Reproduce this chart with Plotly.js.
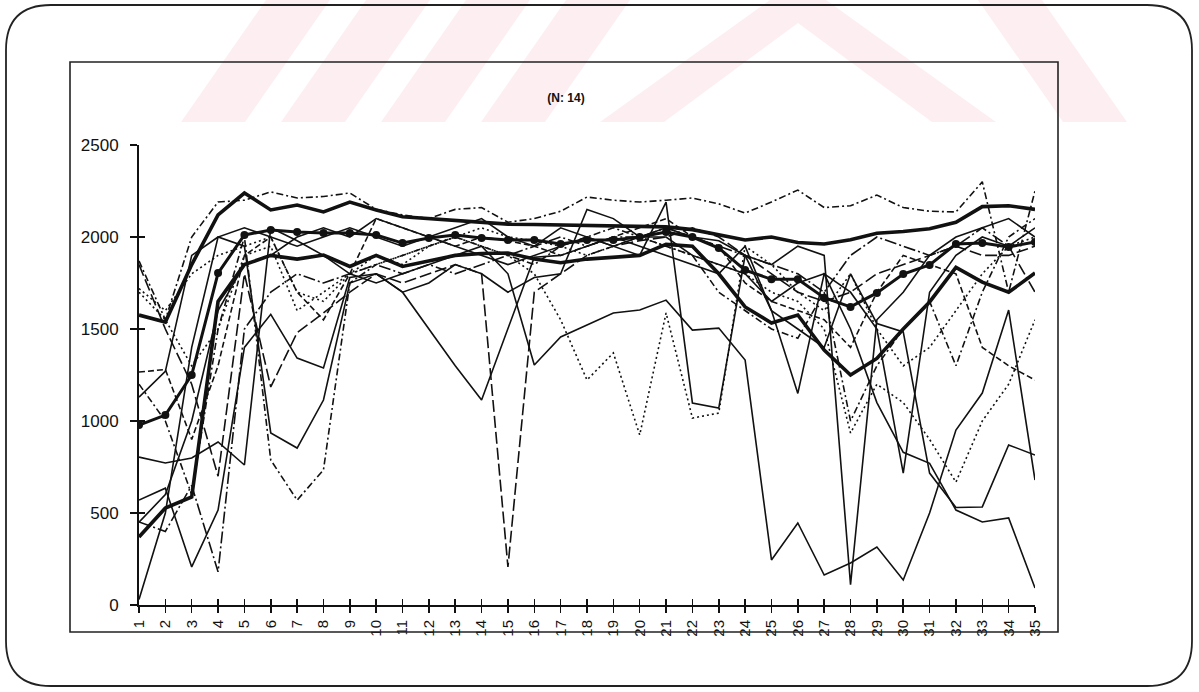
<!DOCTYPE html>
<html><head><meta charset="utf-8">
<script src="https://cdn.plot.ly/plotly-3.0.1.min.js"></script>
<style>html,body{margin:0;padding:0;background:#fff;}#chart{width:1199px;height:692px;}</style>
</head><body><div id="chart"></div>
<script>
// ---- data ----
const days = [1,2,3,4,5,6,7,8,9,10,11,12,13,14,15,16,17,18,19,20,21,22,23,24,25,26,27,28,29,30,31,32,33,34,35];
const dayLabels = ['1','2','3','4','5','6','7','8','9','10','11','12','13','14','15','16','17','18','19','20','21','22','23','24','25','26','27','28','29','30','31','32','33','34','35'];
const yTicks = [0,500,1000,1500,2000,2500];
const yTickLabels = ['0','500','1000','1500','2000','2500'];
const titleText = '(N: 14)';

const meanSeries = [978,1032,1250,1804,2011,2038,2027,2022,2022,2011,1967,1995,2011,1995,1984,1984,1962,1984,1984,2000,2027,2000,1940,1820,1770,1770,1670,1620,1696,1799,1848,1962,1967,1946,1973];
const thickTop = [1576,1538,1850,2120,2239,2147,2174,2136,2190,2147,2110,2100,2090,2080,2070,2068,2065,2060,2058,2055,2055,2040,2010,1984,2000,1970,1962,1985,2020,2030,2045,2080,2165,2170,2150];
const thickLow = [370,527,587,1650,1850,1900,1880,1902,1840,1900,1840,1870,1900,1910,1913,1880,1860,1880,1890,1900,1960,1950,1800,1620,1533,1576,1386,1250,1340,1500,1647,1835,1755,1700,1804];
const s01 = [804,772,799,886,761,2050,1980,1900,1800,1750,1800,1850,1900,1950,1800,1304,1457,1520,1587,1603,1657,1494,1505,1331,245,446,163,228,315,136,500,951,1152,1603,679];
const s02 = [570,635,207,516,1400,1580,1342,1288,1780,1800,1700,1750,1850,1800,1700,1780,1800,2150,2100,2000,2000,1900,1850,1800,1650,1750,1800,1500,1100,830,770,516,451,473,92];
const s03 = [1130,1270,1900,2000,1950,935,853,1114,1750,1800,1700,1500,1300,1114,1500,1890,1900,1950,2000,1950,1900,1850,1800,1950,1600,1150,1800,1700,1500,717,1700,1900,2000,1950,2050];
const s04 = [1200,1000,600,1500,2000,788,570,734,1750,1850,1900,1950,2000,1950,1900,1850,1950,2000,2050,2000,1950,1900,1700,1600,1500,1450,1700,1000,1300,1500,1650,1300,1700,2000,2100];
const s05 = [1850,1500,1200,700,1800,1185,1480,1587,1700,1800,1750,1800,1850,1800,207,1700,1800,1900,1950,1980,2000,2050,2000,1900,1800,1700,1650,1700,1800,1850,1900,1950,1900,1900,1950];
const s06 = [1700,1550,1300,1500,1900,1950,1600,1700,1800,1900,1850,1950,2000,1950,1900,1800,1550,1223,1370,924,1587,1016,1043,1950,1850,1700,1600,1800,1500,1300,1400,1600,1800,1950,2000];
const s07 = [1870,1550,2000,2190,2200,2245,2212,2220,2239,2150,2120,2100,2150,2160,2080,2100,2140,2217,2200,2190,2200,2212,2180,2130,2190,2255,2160,2170,2228,2160,2140,2136,2300,1700,2250];
const s08 = [450,600,1000,1600,1850,1900,2000,2050,2000,2100,2050,2000,2050,2100,2000,1950,2050,2000,1950,1900,2190,1098,1070,1900,1850,1950,1900,110,1550,1700,1900,2000,2050,2100,2000];
const s09 = [30,500,1400,2000,2050,2000,1950,2000,2050,2000,1950,2000,1950,1900,1850,1900,1950,2000,1950,2000,2050,2000,1980,1900,1600,1500,1400,1800,1530,1484,717,530,533,870,815];
const s10 = [1266,1280,900,1300,1900,2000,1700,1550,1800,2100,2050,2000,1950,2000,1980,1950,1900,1950,2000,2050,2100,2000,1950,1750,1650,1600,1550,1400,1700,1900,1850,1800,1400,1300,1223];
const s11 = [1720,1600,1800,1900,1950,2000,1700,1650,1800,1850,1900,1950,2000,2050,2000,1980,1950,1900,1950,2000,1950,1900,1850,1800,1700,1650,1500,935,1200,1100,900,668,1000,1200,1550];
const s12 = [451,400,650,180,1500,1700,1800,1750,1800,1850,1800,1850,1800,1850,1900,1950,2000,1950,2000,2000,2050,2000,1950,1900,1850,1800,1700,1900,2000,1950,1900,1950,2050,1950,1700];

// ---- styles ----
const DASH = '6px,3px', DOT = '2px,3px', DASHDOT = '7px,3px,2px,3px', LONGDASH = '12px,4px', LONGDASHDOT = '12px,3px,2px,3px';
const thin = [
  [s01,'solid'],[s02,'solid'],[s03,'solid'],[s04,DASHDOT],[s05,LONGDASH],[s06,DOT],
  [s07,DASHDOT],[s08,'solid'],[s09,'solid'],[s10,DASH],[s11,DOT],[s12,LONGDASHDOT]
];
const INK = '#111';
const traces = [];
thin.forEach(([ys,d],i)=>traces.push({x:days,y:ys,type:'scatter',mode:'lines',name:'S'+(i+1),
  line:{color:INK,width:1.6,dash:d},hoverinfo:'skip',showlegend:false}));
traces.push({x:days,y:thickTop,type:'scatter',mode:'lines',line:{color:INK,width:3.6},hoverinfo:'skip',showlegend:false});
traces.push({x:days,y:thickLow,type:'scatter',mode:'lines',line:{color:INK,width:3.6},hoverinfo:'skip',showlegend:false});
traces.push({x:days,y:meanSeries,type:'scatter',mode:'lines+markers',line:{color:INK,width:3},
  marker:{color:INK,size:8,symbol:'circle'},hoverinfo:'skip',showlegend:false});
// empty trace to create crossing-tick overlay axes
traces.push({x:[],y:[],xaxis:'x2',yaxis:'y2',type:'scatter',mode:'lines',showlegend:false,hoverinfo:'skip'});

// ---- layout helpers (pixel -> paper) ----
const W=1199,H=692,L=139,R=1035,T=145,B=605;
const px = v => (v-L)/(R-L);
const py = v => (B-v)/(B-T);

function roundRect(x0,y0,x1,y1,r){
  const X=v=>px(v).toFixed(5), Y=v=>py(v).toFixed(5);
  return `M ${X(x0+r)},${Y(y0)} L ${X(x1-r)},${Y(y0)} Q ${X(x1)},${Y(y0)} ${X(x1)},${Y(y0+r)} `+
         `L ${X(x1)},${Y(y1-r)} Q ${X(x1)},${Y(y1)} ${X(x1-r)},${Y(y1)} L ${X(x0+r)},${Y(y1)} `+
         `Q ${X(x0)},${Y(y1)} ${X(x0)},${Y(y1-r)} L ${X(x0)},${Y(y0+r)} Q ${X(x0)},${Y(y0)} ${X(x0+r)},${Y(y0)} Z`;
}
function poly(pts){
  return 'M '+pts.map(p=>px(p[0]).toFixed(5)+','+py(p[1]).toFixed(5)).join(' L ')+' Z';
}
const PINK='rgba(251,214,222,0.42)';
const shapes=[];
// watermark stripes
const wTop=0,wBot=122,shift=85;
[181,281,381,481].forEach(b=>{
  shapes.push({type:'path',xref:'paper',yref:'paper',layer:'below',fillcolor:PINK,line:{width:0},
    path:poly([[b,wBot],[b+64,wBot],[b+64+shift,wTop],[b+shift,wTop]])});
});
// big A shape with inner white triangle
shapes.push({type:'path',xref:'paper',yref:'paper',layer:'below',fillcolor:PINK,line:{width:0},
  path:poly([[600,wBot],[664,wBot],[798,23],[932,wBot],[996,wBot],[826,wTop],[770,wTop]])});
shapes.push({type:'path',xref:'paper',yref:'paper',layer:'below',fillcolor:PINK,line:{width:0},
  path:poly([[1063,wBot],[1127,wBot],[1042,wTop],[978,wTop]])});
// outer rounded frame
shapes.push({type:'path',xref:'paper',yref:'paper',layer:'above',line:{color:'#222',width:1.8},
  path:roundRect(6,5,1192,686,45)});
// plot box
shapes.push({type:'rect',xref:'paper',yref:'paper',layer:'above',line:{color:'#222',width:1.6},
  x0:px(70),x1:px(1058),y0:py(62),y1:py(632)});

const FONT='"Liberation Sans", Arial, Helvetica, sans-serif';
const layout={
  width:W,height:H,
  margin:{l:L,r:W-R,t:T,b:H-B,pad:0},
  paper_bgcolor:'#fff',plot_bgcolor:'rgba(0,0,0,0)',
  showlegend:false,
  title:{text:titleText,xref:'container',yref:'container',x:566/W,y:1-98/H,xanchor:'center',yanchor:'middle',
    font:{family:'"Liberation Sans Narrow", "Liberation Sans", Arial, sans-serif',size:12,color:'#111',weight:'bold'}},
  font:{family:FONT,color:'#111'},
  xaxis:{range:[1,35],tickmode:'array',tickvals:days,ticktext:dayLabels,ticks:'outside',ticklen:6,tickwidth:1.5,
    tickcolor:'#111',showline:true,linewidth:2,linecolor:'#111',showgrid:false,zeroline:false,tickangle:-90,
    tickfont:{family:FONT,size:15,color:'#111'},ticklabelstandoff:1,fixedrange:true},
  yaxis:{range:[0,2500],tickmode:'array',tickvals:yTicks,ticktext:yTickLabels,ticks:'outside',ticklen:7,tickwidth:1.5,
    tickcolor:'#111',showline:true,linewidth:2,linecolor:'#111',showgrid:false,zeroline:false,
    tickfont:{family:FONT,size:17,color:'#111'},ticklabelstandoff:8,fixedrange:true},
  xaxis2:{overlaying:'x',anchor:'y2',range:[1,35],tickmode:'array',tickvals:days,ticks:'inside',ticklen:6,tickwidth:1.5,
    tickcolor:'#111',showticklabels:false,showline:false,showgrid:false,zeroline:false,fixedrange:true},
  yaxis2:{overlaying:'y',anchor:'x2',side:'left',range:[0,2500],tickmode:'array',tickvals:yTicks,ticks:'inside',ticklen:6,tickwidth:1.5,
    tickcolor:'#111',showticklabels:false,showline:false,showgrid:false,zeroline:false,fixedrange:true},
  shapes:shapes
};
Plotly.newPlot('chart',traces,layout,{staticPlot:true,displayModeBar:false});
</script>
</body></html>
